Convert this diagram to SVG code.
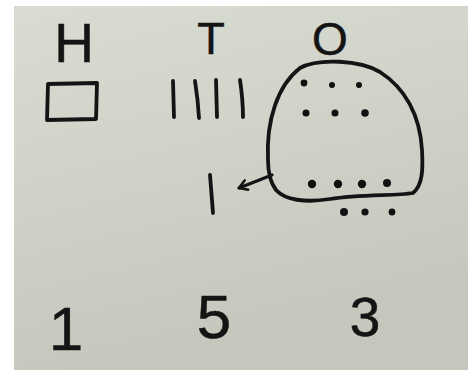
<svg xmlns="http://www.w3.org/2000/svg" width="473" height="370" viewBox="0 0 473 370">
<defs>
<linearGradient id="bg" x1="0" y1="0" x2="0.3" y2="1">
<stop offset="0" stop-color="#d8dcd2"/>
<stop offset="1" stop-color="#c4c8bc"/>
</linearGradient>
<marker id="arr" viewBox="0 0 12 12" refX="10" refY="6" markerWidth="12" markerHeight="12" markerUnits="userSpaceOnUse" orient="auto">
<path d="M2 1 L10 6 L2 11" fill="none" stroke="#141414" stroke-width="2.6" stroke-linecap="round" stroke-linejoin="round"/>
</marker>
</defs>
<style>
.ink{fill:none;stroke:#141414;stroke-width:3.8;stroke-linecap:round;stroke-linejoin:round}
.txt{font-family:"Liberation Sans","DejaVu Sans",sans-serif;fill:#141414;stroke:#141414;stroke-width:0.5;text-anchor:middle}
.dot{fill:#111}
</style>
<rect width="473" height="370" fill="#ffffff"/>
<rect x="14" y="6" width="454" height="364" fill="url(#bg)"/>
<g id="headers">
<text class="txt" x="74" y="62" font-size="55">H</text>
<text class="txt" x="211" y="54" font-size="45">T</text>
<text class="txt" x="330" y="55" font-size="46">O</text>
</g>
<g id="hundreds">
<path class="ink" d="M48 84 L97 83 L96 119 L47 120 Z"/>
</g>
<g id="tens">
<path class="ink" d="M173 81 L174 117"/>
<path class="ink" d="M195 81 Q198 100 199 118"/>
<path class="ink" d="M216 80 L217 117"/>
<path class="ink" d="M240 80 Q243 100 243 117"/>
</g>
<g id="ones">
<path class="ink" d="M268 160 C266 120 278 85 300 68 C318 58 360 60 380 72 C405 88 420 115 422 150 C423 168 423 185 413 193 C395 196 360 194 330 199 C305 203 285 200 276 190 C270 182 268 172 268 160 Z"/>
<circle class="dot" cx="304" cy="83" r="3.4"/>
<circle class="dot" cx="332" cy="85" r="3"/>
<circle class="dot" cx="359" cy="85" r="3"/>
<circle class="dot" cx="306" cy="113" r="3.5"/>
<circle class="dot" cx="335" cy="113" r="3.5"/>
<circle class="dot" cx="365" cy="113" r="3.8"/>
<circle class="dot" cx="312" cy="184" r="4.2"/>
<circle class="dot" cx="338" cy="184" r="4.2"/>
<circle class="dot" cx="362" cy="184" r="4.2"/>
<circle class="dot" cx="387" cy="183" r="4"/>
<circle class="dot" cx="344" cy="212" r="4"/>
<circle class="dot" cx="365" cy="212" r="3.6"/>
<circle class="dot" cx="392" cy="212" r="3.4"/>
</g>
<g id="new-ten">
<path class="ink" d="M210 175 L213 213"/>
</g>
<g id="connectors">
<path d="M272 175 L239 188" fill="none" stroke="#141414" stroke-width="3.2" stroke-linecap="round" marker-end="url(#arr)"/>
</g>
<g id="answer">
<text class="txt" x="66" y="350" font-size="62">1</text>
<text class="txt" x="214" y="338" font-size="62">5</text>
<text class="txt" x="365" y="336" font-size="55">3</text>
</g>
</svg>
